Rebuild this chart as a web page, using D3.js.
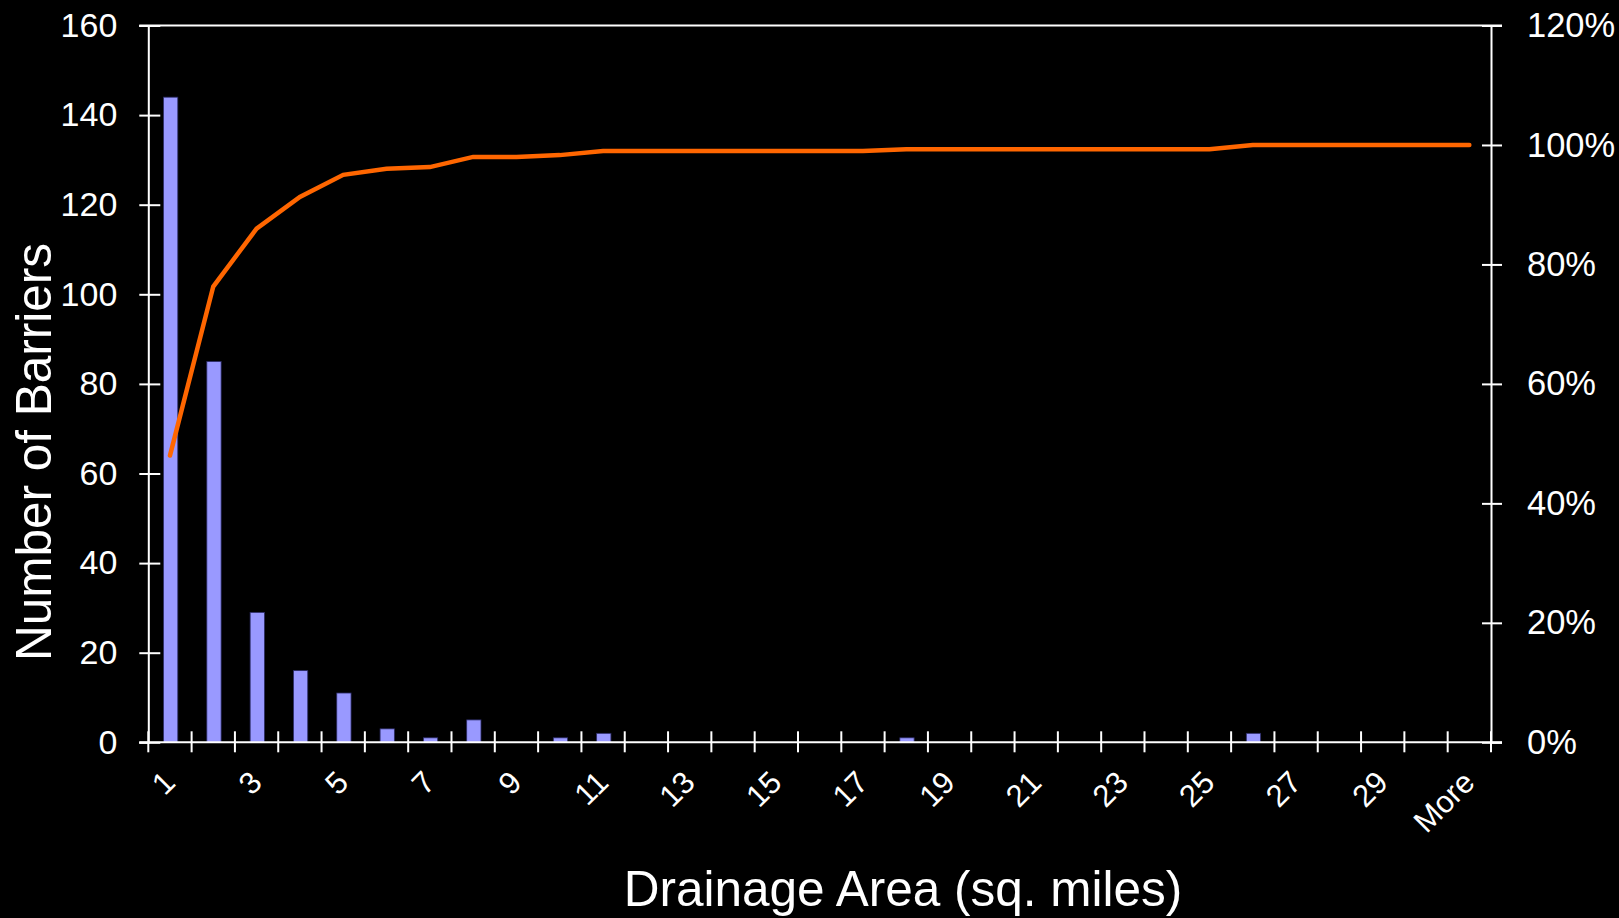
<!DOCTYPE html>
<html>
<head>
<meta charset="utf-8">
<script src="https://cdn.jsdelivr.net/npm/d3@7/dist/d3.min.js"></script>
<style>
  html, body { margin: 0; padding: 0; background: #000; }
  svg { display: block; }
  text { font-family: "Liberation Sans", Arial, sans-serif; fill: #fff; }
</style>
</head>
<body>
<svg id="chart" width="1619" height="918"></svg>
<script>
// Drainage-area bins (sq. miles)
const categories = ["1","2","3","4","5","6","7","8","9","10",
  "11","12","13","14","15","16","17","18","19","20",
  "21","22","23","24","25","26","27","28","29","30","More"];

// Number of barriers in each bin
const barrierCounts = [144, 85, 29, 16, 11, 3, 1, 5, 0, 1,
  2, 0, 0, 0, 0, 0, 0, 1, 0, 0,
  0, 0, 0, 0, 0, 2, 0, 0, 0, 0, 0];

// Cumulative share of barriers (%)
const cumulativePct = [48.0, 76.3, 86.0, 91.3, 95.0, 96.0, 96.3, 98.0, 98.0, 98.3,
  99.0, 99.0, 99.0, 99.0, 99.0, 99.0, 99.0, 99.3, 99.3, 99.3,
  99.3, 99.3, 99.3, 99.3, 99.3, 100, 100, 100, 100, 100, 100];

const countTicks = [0, 20, 40, 60, 80, 100, 120, 140, 160];
const pctTicks = [0, 20, 40, 60, 80, 100, 120];
const xLabelCats = categories.filter((d, i) => i % 2 === 0);

const plot = { left: 148.3, right: 1491, top: 25.5, bottom: 742.3 };
const svg = d3.select("#chart");
svg.append("rect").attr("width", 1619).attr("height", 918).attr("fill", "#000");

const x = d3.scaleBand().domain(categories).range([plot.left, plot.right]).padding(0);
const xEdge = d3.scaleLinear().domain([0, categories.length]).range([plot.left, plot.right]);
const yCount = d3.scaleLinear().domain([0, 160]).range([plot.bottom, plot.top]);
const yPct = d3.scaleLinear().domain([0, 120]).range([plot.bottom, plot.top]);

const barW = x.bandwidth() * 0.33;

// Bars
svg.append("g").selectAll("rect")
  .data(categories.map((c, i) => ({ c, v: barrierCounts[i] })).filter(d => d.v > 0))
  .join("rect")
  .attr("x", d => x(d.c) + x.bandwidth() / 2 - barW / 2 + 0.7)
  .attr("y", d => yCount(d.v))
  .attr("width", barW)
  .attr("height", d => yCount(0) - yCount(d.v))
  .attr("fill", "#9999ff")
  .attr("stroke", "#2b2b66")
  .attr("stroke-width", 0.8);

const axisStroke = "#ffffff";

// Left axis
const gL = svg.append("g").attr("transform", `translate(${plot.left},0)`)
  .call(d3.axisLeft(yCount).tickValues(countTicks).tickSizeOuter(0).tickSize(9).tickPadding(22));
gL.select(".domain").attr("stroke", axisStroke).attr("stroke-width", 2);
gL.selectAll(".tick line").attr("stroke", axisStroke).attr("stroke-width", 2).attr("x1", 12);
gL.selectAll(".tick text").attr("font-size", 34).attr("fill", "#fff");

// Right axis
const gR = svg.append("g").attr("transform", `translate(${plot.right},0)`)
  .call(d3.axisRight(yPct).tickValues(pctTicks).tickFormat(d => d + "%").tickSizeOuter(0).tickSize(11).tickPadding(25));
gR.select(".domain").attr("stroke", axisStroke).attr("stroke-width", 2);
gR.selectAll(".tick line").attr("stroke", axisStroke).attr("stroke-width", 2).attr("x1", -9);
gR.selectAll(".tick text").attr("font-size", 34.5).attr("fill", "#fff");

// Top border
svg.append("line")
  .attr("x1", plot.left - 9).attr("x2", plot.right + 11)
  .attr("y1", plot.top).attr("y2", plot.top)
  .attr("stroke", axisStroke).attr("stroke-width", 2);

// Bottom axis: baseline, boundary ticks, rotated labels
svg.append("line")
  .attr("x1", plot.left - 9).attr("x2", plot.right + 11)
  .attr("y1", plot.bottom).attr("y2", plot.bottom)
  .attr("stroke", axisStroke).attr("stroke-width", 2);

svg.append("g").selectAll("line")
  .data(d3.range(categories.length + 1))
  .join("line")
  .attr("x1", d => xEdge(d)).attr("x2", d => xEdge(d))
  .attr("y1", plot.bottom - 11).attr("y2", plot.bottom + 10)
  .attr("stroke", axisStroke).attr("stroke-width", 2);

const gB = svg.append("g").attr("transform", `translate(0,${plot.bottom})`)
  .call(d3.axisBottom(x).tickValues(xLabelCats).tickSize(0).tickSizeOuter(0));
gB.select(".domain").remove();
gB.selectAll(".tick text")
  .attr("font-size", 31)
  .attr("fill", "#fff")
  .attr("text-anchor", "end")
  .attr("dy", null)
  .attr("y", null)
  .attr("transform", "translate(7,42) rotate(-45)");

// Cumulative line
svg.append("path")
  .datum(cumulativePct)
  .attr("fill", "none")
  .attr("stroke", "#ff6600")
  .attr("stroke-width", 4.5)
  .attr("stroke-linecap", "round")
  .attr("stroke-linejoin", "miter")
  .attr("d", d3.line()
    .x((d, i) => x(categories[i]) + x.bandwidth() / 2)
    .y(d => yPct(d)));

// Axis titles
svg.append("text")
  .attr("x", 903).attr("y", 906)
  .attr("text-anchor", "middle")
  .attr("font-size", 49.5)
  .text("Drainage Area (sq. miles)");

svg.append("text")
  .attr("transform", "translate(50.5,452) rotate(-90)")
  .attr("text-anchor", "middle")
  .attr("font-size", 49.5)
  .text("Number of Barriers");
</script>
</body>
</html>
